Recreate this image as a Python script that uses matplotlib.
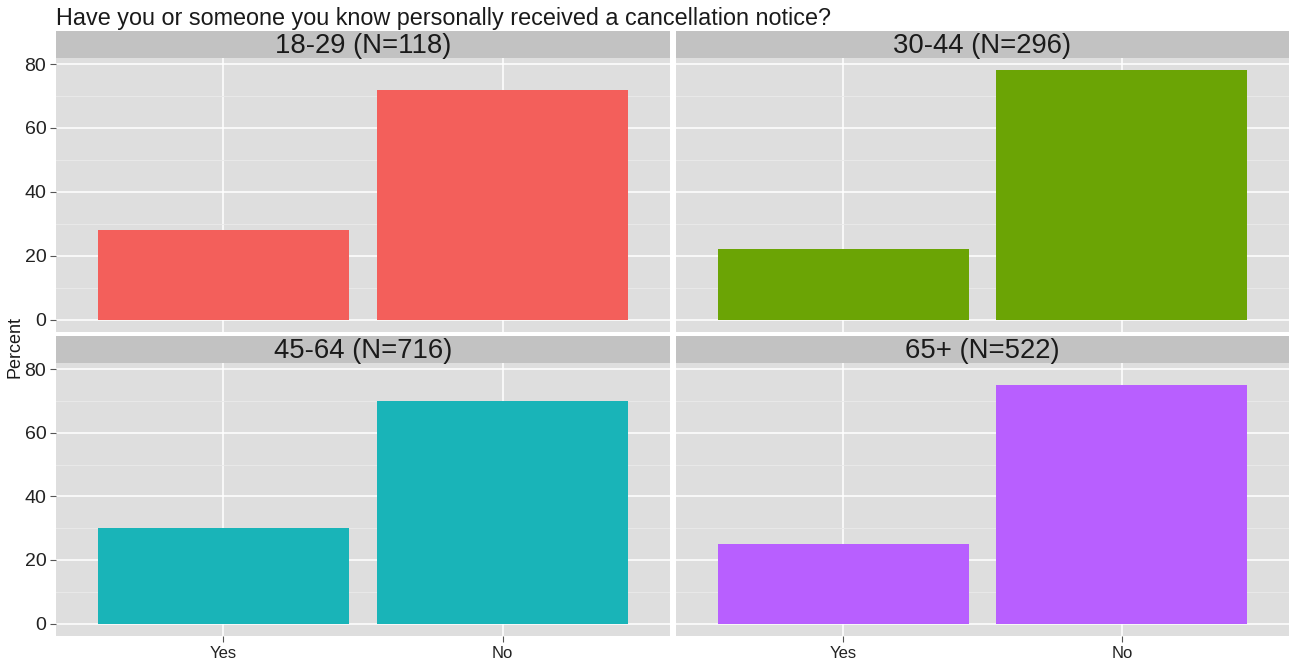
import matplotlib.pyplot as plt

answers = ["Yes", "No"]
groups = ["18-29 (N=118)", "30-44 (N=296)", "45-64 (N=716)", "65+ (N=522)"]
yes_pct = [28, 22, 30, 25]
no_pct = [72, 78, 70, 75]
colors = ["#F35F5B", "#6BA405", "#19B4B8", "#B85FFF"]

title = "Have you or someone you know personally received a cancellation notice?"

plt.rcParams['font.family'] = ['Liberation Sans', 'DejaVu Sans']

W, H = 1289, 662
fig = plt.figure(figsize=(W / 100, H / 100), dpi=100)

def rect(x0, y0, x1, y1):
    # pixel box (top-left origin) -> figure fraction
    return [x0 / W, 1 - y1 / H, (x1 - x0) / W, (y1 - y0) / H]

cols = [(56, 670), (676, 1289)]
rows = [((31, 58), (58, 332)), ((336, 363), (363, 636))]

bg = "#DEDEDE"
strip_bg = "#C2C2C2"

ymax = max(max(yes_pct), max(no_pct))
ylim = (-0.05 * ymax, 1.05 * ymax)

for i, g in enumerate(groups):
    r, c = divmod(i, 2)
    (sy0, sy1), (py0, py1) = rows[r]
    x0, x1 = cols[c]

    ax = fig.add_axes(rect(x0, py0, x1, py1))
    ax.set_facecolor(bg)
    ax.bar([0, 1], [yes_pct[i], no_pct[i]], width=0.9, color=colors[i], zorder=3)
    ax.set_xlim(-0.6, 1.6)
    ax.set_ylim(*ylim)
    ax.set_yticks([0, 20, 40, 60, 80])
    ax.set_yticks([10, 30, 50, 70], minor=True)
    ax.set_xticks([0, 1])
    ax.grid(True, which='major', color='white', linewidth=1.1, zorder=1)
    ax.grid(True, which='minor', axis='y', color='#EBEBEB', linewidth=0.6, zorder=1)
    ax.tick_params(which='minor', length=0)
    ax.tick_params(which='major', length=4, color='#555555', width=0.8, pad=3)
    for s in ax.spines.values():
        s.set_visible(False)
    if r == 1:
        ax.set_xticklabels(answers, fontsize=12, color='#222222')
    else:
        ax.tick_params(axis='x', length=0, labelbottom=False)
    if c == 0:
        ax.set_yticklabels([str(v) for v in [0, 20, 40, 60, 80]], fontsize=14, color='#222222')
    else:
        ax.tick_params(axis='y', length=0, labelleft=False)

    sax = fig.add_axes(rect(x0, sy0, x1, sy1))
    sax.set_facecolor(strip_bg)
    sax.set_xticks([])
    sax.set_yticks([])
    for s in sax.spines.values():
        s.set_visible(False)
    sax.text(0.5, 0.45, g, ha='center', va='center', fontsize=19.8, color='#1A1A1A',
             transform=sax.transAxes)

fig.text(56 / W, 1 - 18 / H, title, ha='left', va='center', fontsize=16.8, color='#1A1A1A')
fig.text(15 / W, 1 - 347 / H, "Percent", rotation=90, ha='center', va='center',
         fontsize=13, color='#1A1A1A')

fig.savefig("out.png", dpi=100)
